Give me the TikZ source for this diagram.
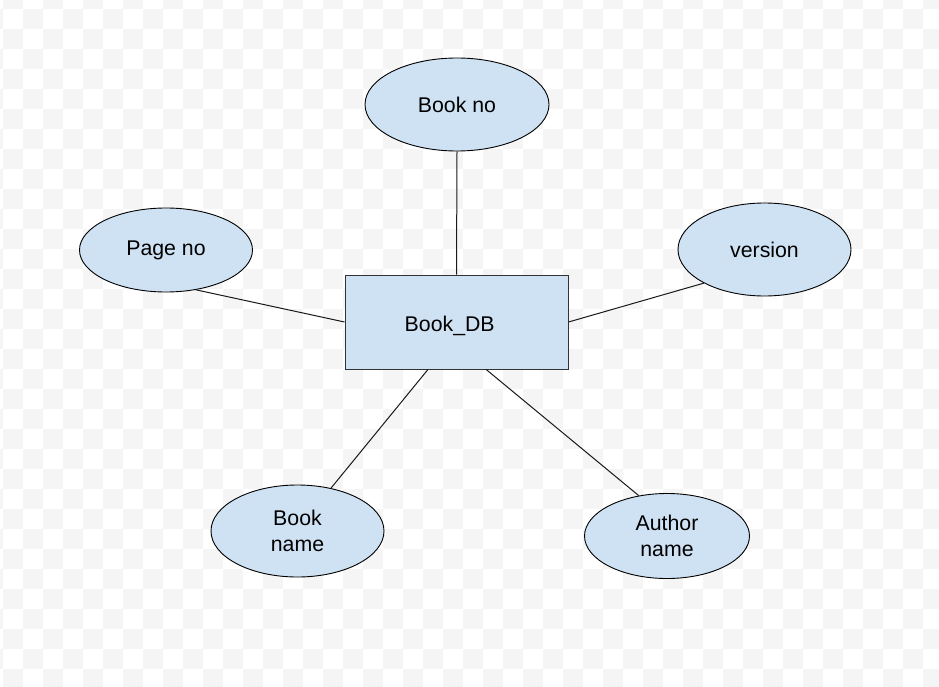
\documentclass[tikz,border=0pt]{standalone}
\usepackage{fontspec}
\setmainfont{Liberation Sans}
\usetikzlibrary{shapes.geometric}
\definecolor{attrblue}{HTML}{CFE2F3}
\definecolor{checkgray}{HTML}{F5F5F5}

\begin{document}
\begin{tikzpicture}[x=1pt, y=-1pt,
    attr/.style={ellipse, draw=black, fill=attrblue, line width=0.9pt, inner sep=0pt, align=center, font=\fontsize{21.3}{26}\selectfont},
    entity/.style={rectangle, draw=black!80, fill=attrblue, line width=1pt, inner sep=0pt, minimum width=223pt, minimum height=94pt, text height=19.1pt, text depth=0pt, font=\fontsize{21.3}{26}\selectfont},
    link/.style={line width=1pt, black!90}]
    \useasboundingbox (0,0) rectangle (939,687);

    % transparent-style checker background
    \begin{scope}
        \clip (0,0) rectangle (939,687);
        \fill[white] (0,0) rectangle (939,687);
        \foreach \j in {0,...,35}{
            \foreach \i in {-1,...,46}{
                \ifodd\numexpr\i+\j\relax\else
                    \fill[checkgray] ({3+20*\i},{-11+20*\j}) rectangle +(20,20);
                \fi
            }
        }
    \end{scope}

    % entity
    \node[entity] (db) at (456.5,322) {\hspace*{-13.6pt}Book\_DB};

    % attributes
    \node[attr, minimum width=184pt, minimum height=93pt] (bookno) at (457,104.5) {Book no};
    \node[attr, minimum width=173pt, minimum height=84pt] (pageno) at (166,250) {Page no};
    \node[attr, minimum width=173pt, minimum height=93pt] (version) at (764.5,249.5) {version};
    \node[attr, minimum width=173pt, minimum height=92pt] (bookname) at (297.5,531) {Book\\name};
    \node[attr, minimum width=165pt, minimum height=85pt] (authorname) at (667,536) {Author\\name};

    % links
    \draw[link] (bookno.south) -- (db.north);
    \draw[link] (pageno.-53) -- (db.west);
    \draw[link] (version.209) -- (db.east);
    \draw[link] (bookname.52) -- (db.239);
    \draw[link] (authorname.125) -- (db.302);
\end{tikzpicture}
\end{document}
